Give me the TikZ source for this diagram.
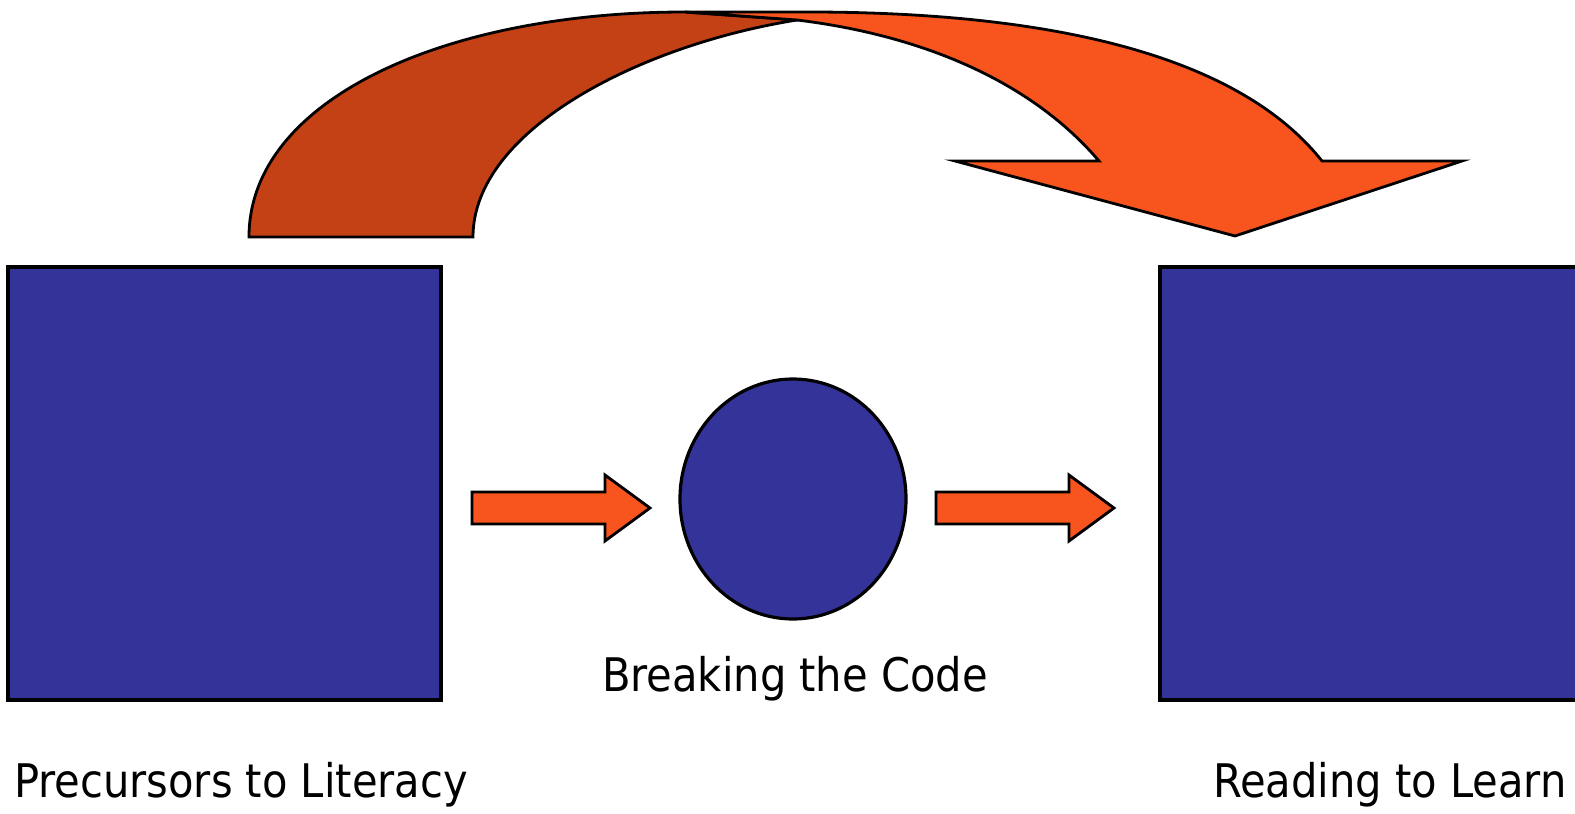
\documentclass[tikz,border=0pt]{standalone}
\usepackage{fontspec}
\setmainfont{DejaVu Sans Condensed}
\usetikzlibrary{shapes.geometric}
\definecolor{navy}{RGB}{51,51,153}
\definecolor{orng}{RGB}{247,84,30}
\definecolor{rust}{RGB}{196,65,22}
\begin{document}
\begin{tikzpicture}[x=1pt,y=-1pt,
  bluebox/.style={draw=black,line width=3.2pt,fill=navy,inner sep=0pt},
  shapeline/.style={draw=black,line width=2.8pt,line join=miter},
  lbl/.style={inner sep=0pt,font=\fontsize{46.3}{53}\selectfont,text=black}]
\useasboundingbox (0,0) rectangle (1575,814);
% main shapes
\node[bluebox,rectangle,minimum width=433pt,minimum height=433pt] (pre) at (224.5,483.5) {};
\node[bluebox,rectangle,minimum width=433pt,minimum height=433pt] (read) at (1376.5,483.5) {};
\node[bluebox,ellipse,minimum width=226pt,minimum height=240pt] (code) at (793,499) {};
% straight block arrows
\draw[shapeline,fill=orng] (472,492) -- (605,492) -- (605,475) -- (650,508) -- (605,541) -- (605,524) -- (472,524) -- cycle;
\draw[shapeline,fill=orng] (936,492) -- (1069,492) -- (1069,475) -- (1114,508) -- (1069,541) -- (1069,524) -- (936,524) -- cycle;
% curved arrow: dark back part
\draw[shapeline,fill=rust] (249,237) .. controls (249,100) and (444,12) .. (685,12)
  -- (797,20) .. controls (640,45) and (473,130) .. (473,237) -- cycle;
% curved arrow: front part with head
\draw[shapeline,fill=orng] (685,12) -- (800,12) .. controls (1090,11) and (1250,70) .. (1322,161)
  -- (1462,161) -- (1235,236) -- (955,161) -- (1099,161)
  .. controls (1030,80) and (920,35) .. (797,20) -- cycle;
% labels
\node[lbl,anchor=base west] (tpre) at (14,797) {Precursors to Literacy};
\node[lbl,anchor=base] (tcode) at (795,691) {Breaking the Code};
\node[lbl,anchor=base west] (tread) at (1213,797) {Reading to Learn};
\end{tikzpicture}
\end{document}
